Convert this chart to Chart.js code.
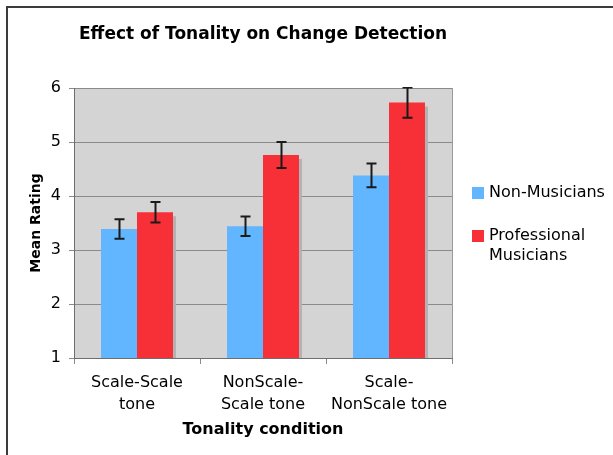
<!DOCTYPE html>
<html>
<head>
<meta charset="utf-8">
<script src="https://cdn.jsdelivr.net/npm/chart.js@4"></script>
<style>
  html, body { margin: 0; padding: 0; background: #fff; }
  canvas { display: block; }
</style>
</head>
<body>
<canvas id="toneChart" width="613" height="455"></canvas>
<script>
// data
const categories = [['Scale-Scale', 'tone'], ['NonScale-', 'Scale tone'], ['Scale-', 'NonScale tone']];
const seriesNames = ['Non-Musicians', 'Professional Musicians'];
const nonMusicians = [3.39, 3.44, 4.38];
const nonMusiciansErr = [0.18, 0.18, 0.22];
const professionals = [3.70, 4.76, 5.73];
const professionalsErr = [0.19, 0.24, 0.28];
const yTicks = [1, 2, 3, 4, 5, 6];

const FONT = '"DejaVu Sans", Verdana, sans-serif';
const errors = [nonMusiciansErr, professionalsErr];

// frame, plot background and right border
const framePlugin = {
  id: 'frame',
  beforeDraw(chart) {
    const { ctx, chartArea: a } = chart;
    ctx.save();
    ctx.fillStyle = '#d4d4d4';
    ctx.fillRect(a.left, a.top, a.right - a.left, a.bottom - a.top);
    ctx.strokeStyle = '#3c3c3c';
    ctx.lineWidth = 2;
    ctx.beginPath();
    ctx.moveTo(7, chart.height);
    ctx.lineTo(7, 7);
    ctx.lineTo(chart.width, 7);
    ctx.stroke();
    ctx.restore();
  },
  afterDraw(chart) {
    const { ctx, chartArea: a } = chart;
    ctx.save();
    ctx.strokeStyle = '#9a9a9a';
    ctx.lineWidth = 1;
    ctx.beginPath();
    ctx.moveTo(a.right + 0.5, a.top);
    ctx.lineTo(a.right + 0.5, a.bottom);
    ctx.stroke();
    ctx.restore();
  }
};

// gray drop shadow behind each bar
const shadowPlugin = {
  id: 'barShadow',
  beforeDatasetsDraw(chart) {
    const { ctx, chartArea: a } = chart;
    ctx.save();
    ctx.beginPath();
    ctx.rect(a.left, a.top, a.right - a.left, a.bottom - a.top);
    ctx.clip();
    ctx.fillStyle = '#b3b3b3';
    chart.data.datasets.forEach((ds, i) => {
      chart.getDatasetMeta(i).data.forEach(bar => {
        const w = bar.width;
        ctx.fillRect(bar.x - w / 2 + 3, bar.y + 4, w, bar.base - bar.y);
      });
    });
    ctx.restore();
  }
};

// error bars
const errorPlugin = {
  id: 'errorBars',
  afterDatasetsDraw(chart) {
    const { ctx, chartArea: a } = chart;
    const y = chart.scales.y;
    ctx.save();
    ctx.beginPath();
    ctx.rect(a.left, a.top - 1, a.right - a.left, a.bottom - a.top + 1);
    ctx.clip();
    ctx.strokeStyle = '#1a1a1a';
    ctx.lineWidth = 2;
    chart.data.datasets.forEach((ds, i) => {
      chart.getDatasetMeta(i).data.forEach((bar, j) => {
        const v = ds.data[j], e = errors[i][j];
        const top = y.getPixelForValue(v + e);
        const bot = y.getPixelForValue(v - e);
        const x = Math.round(bar.x) + 0.5;
        ctx.beginPath();
        ctx.moveTo(x, top); ctx.lineTo(x, bot);
        ctx.moveTo(x - 5, top); ctx.lineTo(x + 5, top);
        ctx.moveTo(x - 5, bot); ctx.lineTo(x + 5, bot);
        ctx.stroke();
      });
    });
    ctx.restore();
  }
};

// legend on the right, wrapped text
const legendPlugin = {
  id: 'sideLegend',
  afterDraw(chart) {
    const { ctx } = chart;
    const x0 = 472, rows = [193, 236];
    ctx.save();
    ctx.font = '16px ' + FONT;
    ctx.textBaseline = 'middle';
    chart.data.datasets.forEach((ds, i) => {
      const yc = rows[i];
      ctx.fillStyle = ds.backgroundColor;
      ctx.fillRect(x0, yc - 6, 12, 12);
      // wrap label into lines that fit
      const words = ds.label.split(' ');
      const lines = [];
      let line = '';
      words.forEach(w => {
        const t = line ? line + ' ' + w : w;
        if (ctx.measureText(t).width > 125 && line) { lines.push(line); line = w; } else line = t;
      });
      lines.push(line);
      ctx.fillStyle = '#000';
      lines.forEach((l, k) => ctx.fillText(l, x0 + 17, yc + k * 20));
    });
    ctx.restore();
  }
};

const ctx = document.getElementById('toneChart').getContext('2d');
const toneChart = new Chart(ctx, {
  type: 'bar',
  data: {
    labels: categories,
    datasets: [{
      label: seriesNames[0],
      data: nonMusicians,
      backgroundColor: '#62b5ff',
      categoryPercentage: 0.571,
      barPercentage: 1.0
    }, {
      label: seriesNames[1],
      data: professionals,
      backgroundColor: '#f72f37',
      categoryPercentage: 0.571,
      barPercentage: 1.0
    }]
  },
  options: {
    responsive: false,
    animation: false,
    layout: { padding: { left: 8, right: 161, top: 0, bottom: 0 } },
    plugins: {
      legend: { display: false },
      tooltip: { enabled: false },
      title: {
        display: true,
        fullSize: false,
        text: 'Effect of Tonality on Change Detection',
        color: '#000',
        font: { family: FONT, size: 17, weight: 'bold', lineHeight: 1.2 },
        padding: { top: 24, bottom: 43.6 }
      }
    },
    scales: {
      x: {
        grid: { display: true, drawOnChartArea: false, drawTicks: true, tickLength: 6, color: '#8a8a8a', offset: true },
        border: { color: '#6e6e6e', width: 1 },
        ticks: { color: '#000', font: { family: FONT, size: 16, lineHeight: 1.35 }, padding: 8, maxRotation: 0 },
        title: {
          display: true,
          text: 'Tonality condition',
          color: '#000',
          font: { family: FONT, size: 16, weight: 'bold', lineHeight: 1.2 },
          padding: { top: 0, bottom: 15.4 }
        },
        afterFit(scale) { scale.height = 97; }
      },
      y: {
        min: 1,
        max: 6,
        afterBuildTicks(scale) { scale.ticks = yTicks.map(v => ({ value: v })); },
        grid: { color: '#8a8a8a', tickLength: 5, drawTicks: true },
        border: { color: '#6e6e6e', width: 1 },
        ticks: { color: '#000', font: { family: FONT, size: 16 }, padding: 8 },
        title: {
          display: true,
          text: 'Mean Rating',
          color: '#000',
          font: { family: FONT, size: 14, weight: 'bold', lineHeight: 1.2 },
          padding: { top: 19.6, bottom: 0 }
        },
        afterFit(scale) { scale.width = 66; }
      }
    }
  },
  plugins: [framePlugin, shadowPlugin, errorPlugin, legendPlugin]
});
</script>
</body>
</html>
